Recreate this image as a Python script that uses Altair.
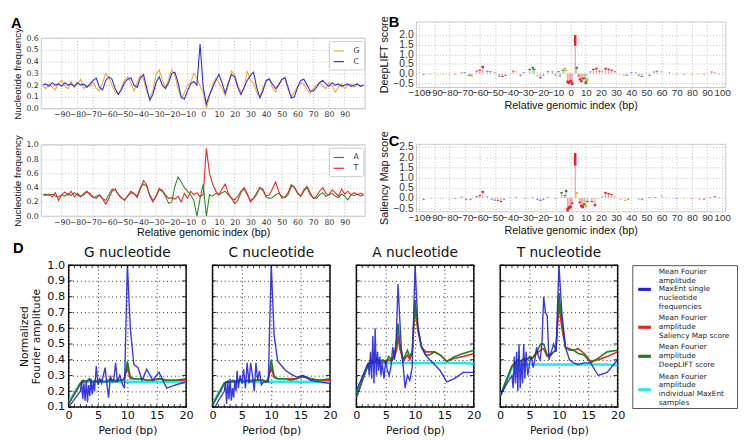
import altair as alt
import pandas as pd

# ---------------- Panel A data (nucleotide frequencies) ----------------
pos_a = list(range(-102, 103, 2))
freq_G = [0.19, 0.17, 0.21, 0.18, 0.16, 0.22, 0.24, 0.19, 0.17, 0.23,
          0.18, 0.21, 0.25, 0.17, 0.20, 0.19, 0.23, 0.17, 0.15, 0.22,
          0.30, 0.26, 0.20, 0.14, 0.12, 0.18, 0.24, 0.27, 0.22, 0.15,
          0.22, 0.28, 0.25, 0.15, 0.09, 0.15, 0.29, 0.33, 0.24, 0.18,
          0.25, 0.33, 0.28, 0.17, 0.09, 0.13, 0.20, 0.22, 0.30, 0.26,
          0.19, 0.14, 0.00, 0.10, 0.20, 0.26, 0.22, 0.17, 0.11, 0.20,
          0.32, 0.29, 0.20, 0.14, 0.17, 0.32, 0.24, 0.22, 0.14, 0.10,
          0.18, 0.23, 0.26, 0.18, 0.14, 0.21, 0.24, 0.27, 0.16, 0.10,
          0.14, 0.19, 0.22, 0.21, 0.16, 0.13, 0.17, 0.20, 0.22, 0.19,
          0.17, 0.22, 0.19, 0.14, 0.18, 0.21, 0.17, 0.20, 0.21, 0.18,
          0.21, 0.19, 0.20]
freq_C = [0.20, 0.21, 0.19, 0.22, 0.20, 0.21, 0.19, 0.22, 0.20, 0.21,
          0.19, 0.22, 0.20, 0.21, 0.18, 0.21, 0.24, 0.26, 0.18, 0.16,
          0.24, 0.27, 0.25, 0.17, 0.12, 0.16, 0.22, 0.25, 0.26, 0.20,
          0.18, 0.26, 0.29, 0.18, 0.07, 0.12, 0.22, 0.27, 0.20, 0.17,
          0.22, 0.30, 0.31, 0.22, 0.10, 0.08, 0.15, 0.21, 0.23, 0.20,
          0.55, 0.18, 0.04, 0.12, 0.18, 0.24, 0.29, 0.22, 0.13, 0.22,
          0.29, 0.27, 0.18, 0.12, 0.18, 0.24, 0.28, 0.31, 0.18, 0.09,
          0.15, 0.24, 0.25, 0.21, 0.17, 0.20, 0.25, 0.26, 0.18, 0.09,
          0.10, 0.18, 0.24, 0.25, 0.20, 0.15, 0.15, 0.18, 0.22, 0.24,
          0.21, 0.19, 0.22, 0.20, 0.21, 0.19, 0.20, 0.21, 0.19, 0.20,
          0.21, 0.19, 0.20]
freq_A = [0.30, 0.31, 0.29, 0.31, 0.28, 0.27, 0.30, 0.28, 0.32, 0.29,
          0.33, 0.30, 0.27, 0.32, 0.35, 0.30, 0.26, 0.28, 0.30, 0.25,
          0.22, 0.30, 0.38, 0.37, 0.30, 0.25, 0.23, 0.28, 0.33, 0.31,
          0.28, 0.40, 0.45, 0.42, 0.30, 0.22, 0.27, 0.37, 0.35, 0.28,
          0.18, 0.20, 0.42, 0.55, 0.48, 0.40, 0.35, 0.30, 0.22, 0.00,
          0.25, 0.45, 0.00, 0.30, 0.28, 0.32, 0.30, 0.33, 0.35, 0.30,
          0.25, 0.23, 0.28, 0.35, 0.38, 0.30, 0.22, 0.25, 0.33, 0.40,
          0.36, 0.27, 0.25, 0.26, 0.30, 0.32, 0.28, 0.26, 0.30, 0.42,
          0.41, 0.32, 0.28, 0.35, 0.40, 0.30, 0.26, 0.25, 0.30, 0.33,
          0.28, 0.30, 0.32, 0.28, 0.26, 0.31, 0.28, 0.23, 0.30, 0.29,
          0.31, 0.28, 0.30]
freq_T = [0.30, 0.29, 0.31, 0.27, 0.33, 0.22, 0.30, 0.34, 0.29, 0.35,
          0.27, 0.32, 0.28, 0.30, 0.34, 0.32, 0.27, 0.25, 0.30, 0.24,
          0.17, 0.25, 0.35, 0.38, 0.31, 0.26, 0.22, 0.29, 0.35, 0.32,
          0.26, 0.38, 0.50, 0.44, 0.28, 0.20, 0.28, 0.39, 0.36, 0.30,
          0.25, 0.26, 0.24, 0.28, 0.20, 0.32, 0.25, 0.35, 0.30, 0.33,
          0.27, 0.30, 0.95, 0.60, 0.45, 0.35, 0.30, 0.38, 0.45, 0.32,
          0.25, 0.18, 0.22, 0.33, 0.40, 0.32, 0.20, 0.25, 0.30, 0.40,
          0.38, 0.28, 0.30, 0.38, 0.48, 0.35, 0.25, 0.27, 0.33, 0.44,
          0.40, 0.33, 0.28, 0.37, 0.42, 0.33, 0.25, 0.28, 0.35, 0.40,
          0.32, 0.30, 0.37, 0.33, 0.28, 0.38, 0.31, 0.35, 0.30, 0.33,
          0.30, 0.32, 0.30]

# ---------------- Panel B data (DeepLIFT scores) ----------------
dl_pos = [-97, -93, -88, -84, -80, -76, -72, -70, -67, -66, -65, -62, -60, -58, -55, -53,
          -50, -47, -45, -43, -38, -36, -33, -31, -27, -25, -24, -22, -20, -18, -15, -12,
          -10, -8, -7, -5, -4, -3, -2, -1, 0, 1, 3, 4, 5, 6, 7, 8, 9, 10, 11, 13, 15, 17,
          19, 21, 23, 25, 27, 29, 32, 35, 37, 40, 43, 45, 47, 52, 55, 57, 60, 65, 70, 75,
          80, 84, 88, 93, 95, 98]
dl_nuc = ["C", "A", "G", "G", "G", "T", "T", "A", "A", "A", "G", "T", "T", "T", "C", "C",
          "T", "C", "T", "C", "T", "G", "C", "C", "A", "A", "A", "G", "C", "C", "A", "A",
          "C", "A", "C", "A", "G", "G", "T", "T", "T", "T", "T", "A", "T", "T", "T", "T", "A", "A", "G", "C", "T", "T",
          "T", "G", "T", "T", "T", "C", "G", "G", "A", "C", "C", "A", "C", "C", "A", "A", "G", "A", "G", "C",
          "G", "G", "T", "T", "T", "C"]
dl_val = [-0.08, -0.03, -0.05, -0.06, -0.05, -0.05, 0.05, 0.08, -0.12, -0.10, -0.15, 0.15, 0.20, 0.40, 0.15, 0.12,
          0.05, -0.15, -0.18, -0.12, 0.15, 0.12, -0.12, 0.08, 0.25, 0.35, 0.25, -0.15, -0.25, -0.10, 0.12, 0.10,
          -0.10, 0.12, -0.15, 0.20, 0.30, 0.20, -0.50, -0.55, -0.45, -0.60, 2.00, 0.35, -0.15, -0.35, -0.45, -0.30, -0.30, -0.55, -0.40, 0.10, 0.25, 0.30,
          0.15, 0.15, 0.30, 0.25, 0.20, 0.12, -0.05, -0.10, -0.12, 0.08, 0.06, -0.10, -0.18, -0.12, 0.10, 0.15, 0.12, 0.05, -0.06, -0.05,
          -0.06, -0.07, -0.05, 0.10, 0.05, -0.03]

# ---------------- Panel C data (Saliency Map scores) ----------------
sm_pos = [-97, -92, -85, -80, -76, -72, -69, -66, -62, -60, -58, -55, -52, -50, -48, -46,
          -44, -40, -36, -30, -25, -22, -20, -18, -15, -10, -6, -4, -3, -2, -1, 0, 1, 3, 4,
          6, 7, 8, 9, 10, 11, 14, 16, 18, 21, 23, 25, 27, 29, 33, 36, 38, 45, 47, 52, 56,
          60, 63, 70, 75, 80, 85, 88, 92, 95, 98]
sm_nuc = ["T", "G", "G", "G", "T", "T", "T", "A", "T", "T", "T", "C", "C", "C", "T", "T",
          "C", "G", "T", "A", "A", "C", "C", "C", "A", "C", "A", "T", "A", "T", "T", "T", "T", "T", "G",
          "T", "T", "T", "A", "G", "A", "T", "T", "G", "G", "T", "T", "T", "G", "G", "G", "A", "C", "A", "C", "A",
          "G", "G", "C", "G", "T", "T", "T", "T", "T", "T"]
sm_val = [-0.10, -0.05, -0.05, -0.06, -0.05, 0.06, -0.10, -0.10, 0.10, 0.15, 0.35, 0.08, -0.10, -0.12, -0.15, -0.20,
          -0.10, 0.05, 0.05, -0.05, 0.05, -0.10, -0.15, -0.10, 0.05, -0.05, 0.30, 0.15, 0.40, -0.65, -0.55, -0.50, -0.30, 2.20, 0.30,
          -0.25, -0.45, -0.50, -0.35, -0.45, -0.20, -0.20, -0.40, -0.05, 0.10, 0.30, 0.25, 0.20, 0.10, -0.10, -0.15, -0.08, -0.06, -0.10, 0.05, 0.05,
          0.12, 0.05, -0.05, -0.05, -0.05, -0.06, -0.08, 0.05, 0.10, 0.02]

# ---------------- Panel D data (Fourier amplitudes) ----------------
period_blue = [0.0, 1.0, 2.0, 2.2, 2.4, 2.6, 2.8, 3.0, 3.2, 3.4,
               3.6, 3.8, 4.0, 4.2, 4.4, 4.7, 5.0, 5.3, 5.6, 5.9,
               6.2, 6.5, 6.8, 7.1, 7.4, 7.7, 8.0, 8.3, 8.7, 9.1,
               9.5, 10.0, 10.5, 11.1, 11.8, 12.5, 13.3, 14.3, 15.4, 16.7,
               18.2, 20.0]
period_smooth = [0.0, 2.0, 2.5, 3.0, 3.5, 4.0, 4.5, 5.0, 5.5, 6.0,
                 6.5, 6.9, 7.1, 7.4, 8.0, 8.7, 9.1, 9.5, 10.0, 10.5,
                 11.1, 11.8, 12.5, 13.3, 14.3, 15.4, 16.7, 18.2, 20.0]

blue_G = [0.10, 0.15, 0.20, 0.27, 0.15, 0.25, 0.14, 0.27, 0.13, 0.24,
          0.17, 0.28, 0.18, 0.26, 0.20, 0.36, 0.24, 0.28, 0.25, 0.30,
          0.35, 0.25, 0.16, 0.30, 0.26, 0.28, 0.38, 0.26, 0.30, 0.25,
          0.22, 1.00, 0.60, 0.37, 0.35, 0.27, 0.34, 0.27, 0.32, 0.22,
          0.24, 0.26]
blue_C = [0.07, 0.14, 0.20, 0.26, 0.12, 0.27, 0.15, 0.28, 0.14, 0.22,
          0.16, 0.27, 0.20, 0.33, 0.22, 0.30, 0.25, 0.34, 0.22, 0.38,
          0.25, 0.38, 0.30, 0.20, 0.38, 0.27, 0.33, 0.24, 0.26, 0.26,
          0.26, 1.00, 0.55, 0.39, 0.36, 0.33, 0.31, 0.29, 0.30, 0.27,
          0.26, 0.25]
blue_A = [0.20, 0.29, 0.38, 0.30, 0.45, 0.28, 0.55, 0.25, 0.60, 0.30,
          0.45, 0.33, 0.42, 0.30, 0.38, 0.28, 0.40, 0.33, 0.30, 0.36,
          0.48, 0.40, 0.55, 0.88, 0.65, 0.45, 0.35, 0.22, 0.30, 0.27,
          0.35, 1.00, 0.60, 0.48, 0.43, 0.40, 0.37, 0.33, 0.26, 0.28,
          0.32, 0.32]
blue_T = [0.17, 0.24, 0.30, 0.22, 0.42, 0.25, 0.45, 0.20, 0.50, 0.22,
          0.40, 0.25, 0.50, 0.28, 0.45, 0.30, 0.38, 0.42, 0.35, 0.40,
          0.48, 0.42, 0.40, 0.50, 0.80, 0.70, 0.68, 0.40, 0.45, 0.50,
          0.45, 1.00, 0.70, 0.48, 0.40, 0.38, 0.37, 0.38, 0.38, 0.30,
          0.32, 0.40]

green_G = [0.12, 0.25, 0.27, 0.26, 0.28, 0.26, 0.27, 0.26, 0.27, 0.26,
           0.27, 0.27, 0.28, 0.27, 0.27, 0.27, 0.27, 0.28, 0.39, 0.29,
           0.28, 0.28, 0.28, 0.27, 0.27, 0.28, 0.27, 0.27, 0.28]
red_G = [0.12, 0.25, 0.26, 0.26, 0.27, 0.26, 0.26, 0.26, 0.27, 0.26,
         0.26, 0.27, 0.27, 0.27, 0.26, 0.27, 0.27, 0.28, 0.35, 0.28,
         0.28, 0.28, 0.28, 0.27, 0.27, 0.28, 0.27, 0.27, 0.27]
cyan_G = [0.13, 0.25, 0.26, 0.26, 0.26, 0.26, 0.26, 0.26, 0.26, 0.26,
          0.26, 0.26, 0.26, 0.26, 0.26, 0.26, 0.26, 0.26, 0.26, 0.26,
          0.26, 0.26, 0.26, 0.26, 0.26, 0.26, 0.26, 0.26, 0.255]
green_C = [0.11, 0.25, 0.26, 0.26, 0.27, 0.26, 0.27, 0.27, 0.26, 0.27,
           0.27, 0.27, 0.27, 0.27, 0.27, 0.27, 0.26, 0.28, 0.40, 0.29,
           0.28, 0.28, 0.28, 0.27, 0.28, 0.30, 0.28, 0.27, 0.28]
red_C = [0.11, 0.25, 0.26, 0.26, 0.26, 0.26, 0.27, 0.27, 0.26, 0.27,
         0.26, 0.27, 0.27, 0.27, 0.27, 0.27, 0.26, 0.28, 0.35, 0.29,
         0.28, 0.28, 0.28, 0.28, 0.28, 0.29, 0.28, 0.27, 0.27]
cyan_C = [0.12, 0.25, 0.26, 0.26, 0.26, 0.26, 0.26, 0.26, 0.26, 0.26,
          0.26, 0.26, 0.26, 0.26, 0.26, 0.26, 0.26, 0.26, 0.26, 0.26,
          0.26, 0.26, 0.26, 0.26, 0.26, 0.26, 0.26, 0.26, 0.255]
green_A = [0.16, 0.37, 0.40, 0.38, 0.41, 0.39, 0.40, 0.38, 0.42, 0.40,
           0.44, 0.52, 0.63, 0.50, 0.40, 0.46, 0.42, 0.45, 0.78, 0.60,
           0.48, 0.43, 0.43, 0.45, 0.43, 0.39, 0.42, 0.44, 0.46]
red_A = [0.16, 0.37, 0.39, 0.38, 0.40, 0.38, 0.39, 0.38, 0.40, 0.39,
         0.42, 0.47, 0.55, 0.47, 0.39, 0.43, 0.40, 0.44, 0.72, 0.58,
         0.48, 0.45, 0.45, 0.45, 0.43, 0.39, 0.41, 0.42, 0.44]
cyan_A = [0.19, 0.37, 0.38, 0.38, 0.38, 0.38, 0.38, 0.38, 0.38, 0.38,
          0.38, 0.38, 0.38, 0.38, 0.38, 0.38, 0.38, 0.38, 0.38, 0.38,
          0.38, 0.38, 0.38, 0.38, 0.38, 0.38, 0.38, 0.38, 0.375]
green_T = [0.17, 0.36, 0.38, 0.40, 0.39, 0.41, 0.40, 0.42, 0.41, 0.44,
           0.47, 0.50, 0.50, 0.50, 0.43, 0.44, 0.45, 0.46, 0.82, 0.65,
           0.48, 0.46, 0.46, 0.44, 0.43, 0.38, 0.41, 0.45, 0.46]
red_T = [0.17, 0.36, 0.38, 0.39, 0.39, 0.40, 0.40, 0.41, 0.41, 0.43,
         0.45, 0.46, 0.47, 0.47, 0.42, 0.43, 0.45, 0.46, 0.75, 0.60,
         0.48, 0.47, 0.46, 0.47, 0.44, 0.39, 0.40, 0.42, 0.45]
cyan_T = [0.17, 0.35, 0.37, 0.37, 0.37, 0.37, 0.37, 0.37, 0.37, 0.37,
          0.37, 0.37, 0.37, 0.37, 0.37, 0.37, 0.37, 0.37, 0.37, 0.37,
          0.37, 0.37, 0.37, 0.37, 0.37, 0.37, 0.37, 0.37, 0.365]

legend_entries = [["Mean Fourier", "amplitude", "MaxEnt single", "nucleotide", "frequencies"],
                  ["Mean Fourier", "amplitude", "Saliency Map score"],
                  ["Mean Fourier", "amplitude", "DeepLIFT score"],
                  ["Mean Fourier", "amplitude", "individual MaxEnt", "samples"]]

# ---------------- styling / layout ----------------
DV = "DejaVu Sans"
AR = "Liberation Sans"
GRID = "#bdbdbd"
FRAME = "#c8c8c8"
C_G, C_C, C_A, C_T = "#f4a43a", "#2f2fd6", "#2a8a2a", "#ea2626"
NUC_COL = {"A": "#2e8b2e", "C": "#5b5bef", "G": "#f5a623", "T": "#e8232b"}
D_BLUE, D_RED, D_GREEN, D_CYAN = "#2323d8", "#e6241c", "#1f7f1f", "#22e8f2"

W_A, H_A1, H_A2 = 331, 72, 73
W_B, H_B, H_C = 316, 67, 69
W_D, H_D, W_L = 120, 145, 107
A1_DROP = 17  # panel A (top) sits lower than panel B


def letter(txt, dx, dy):
    return alt.Chart(pd.DataFrame({"t": [txt]})).mark_text(
        align="left", baseline="top", font=AR, fontSize=15, fontWeight="bold", color="black"
    ).encode(text="t:N", x=alt.value(dx), y=alt.value(dy))


def anchor(l, t, r, b):
    # transparent box that fixes the panel's layout extent
    return alt.Chart(pd.DataFrame({"z": [0]})).mark_rect(color="transparent").encode(
        x=alt.value(l), x2=alt.value(r), y=alt.value(t), y2=alt.value(b))


def spacer(w, h):
    return alt.Chart(pd.DataFrame({"z": [0]})).mark_point(opacity=0, size=1).encode(
        x=alt.value(0), y=alt.value(0)
    ).properties(width=w, height=h, view=alt.ViewBackground(stroke="transparent"))


def freq_panel(v1, v2, names, colors, ymax, ystep, H, xtitle, drop, box, let):
    n = len(pos_a)
    df = pd.DataFrame({"pos": pos_a + pos_a, "val": v1 + v2,
                       "nuc": [names[0]] * n + [names[1]] * n})
    yvals = [round(i * ystep, 2) for i in range(int(round(ymax / ystep)) + 1)]
    xticks = list(range(-90, 91, 10))
    xkw = dict(values=xticks, labelExpr="replace(datum.label, '-', '\u2212')",
               labelFont=DV, labelFontSize=8, labelColor="#333", labelPadding=2,
               labelOverlap=False, labelFlush=False, ticks=False, domain=False, grid=False)
    if xtitle:
        xkw.update(title=xtitle, titleFont=AR, titleFontSize=11, titleFontWeight="normal",
                   titlePadding=1, titleColor="#111")
    else:
        xkw.update(title="")
    x = alt.X("pos:Q", scale=alt.Scale(domain=[-103, 103], nice=False, zero=False),
              axis=alt.Axis(**xkw))
    y = alt.Y("val:Q", scale=alt.Scale(domain=[0, ymax], range=[drop + H, drop],
                                       nice=False, zero=False),
              axis=alt.Axis(values=yvals, format=".1f", labelFont=DV, labelFontSize=8,
                            labelColor="#333", labelPadding=3, labelOverlap=False,
                            ticks=False, domain=False,
                            grid=True, gridColor=GRID, gridDash=[1, 2],
                            title="Nucleotide frequency", titleFont=AR, titleFontSize=10,
                            titleFontWeight="normal", titlePadding=3, titleColor="#111",
                            titleY=drop + H / 2.0))
    color = alt.Color("nuc:N", scale=alt.Scale(domain=names, range=colors),
                      legend=alt.Legend(title=None, orient="none", legendX=W_A - 37,
                                        legendY=drop + 3,
                                        symbolType="stroke", symbolStrokeWidth=1.2,
                                        symbolSize=110, labelFont=DV, labelFontSize=8,
                                        labelColor="#333", labelOffset=9,
                                        strokeColor="#cccccc", fillColor="white",
                                        padding=4, rowPadding=1, cornerRadius=2))
    xgrid = alt.Chart(pd.DataFrame({"pos": xticks})).mark_rule(
        color=GRID, strokeDash=[1, 2], strokeWidth=1).encode(
        x=x, y=alt.value(drop), y2=alt.value(drop + H))
    frame = alt.Chart(pd.DataFrame({"z": [0]})).mark_rect(
        fillOpacity=0, stroke=FRAME, strokeWidth=1).encode(
        x=alt.value(0), x2=alt.value(W_A), y=alt.value(drop), y2=alt.value(drop + H))
    lines = alt.Chart(df).mark_line(strokeWidth=1.1, clip=True).encode(x=x, y=y, color=color)
    layers = [anchor(*box), xgrid, frame, lines]
    if let:
        layers.append(letter(let, -31, drop - 22))
    return alt.layer(*layers).properties(
        width=W_A, height=drop + H, view=alt.ViewBackground(stroke="transparent"))


def logo_panel(pos, nuc, val, ymin, ymax, yvals, ytitle, H, let, ldy, tpad, box):
    df = pd.DataFrame({"pos": pos, "nuc": nuc, "val": val})
    x = alt.X("pos:Q", scale=alt.Scale(domain=[-102, 102], nice=False, zero=False),
              axis=alt.Axis(values=list(range(-100, 101, 10)), labelFont=AR, labelFontSize=10,
                            labelColor="#333", labelPadding=1, labelOverlap=False,
                            labelFlush=False, ticks=False, domain=False, grid=True,
                            gridColor=GRID, gridDash=[1, 2],
                            title="Relative genomic index (bp)", titleFont=AR,
                            titleFontSize=11, titleFontWeight="normal", titlePadding=tpad,
                            titleColor="#111"))
    y = alt.Y("val:Q", scale=alt.Scale(domain=[ymin, ymax], nice=False, zero=False),
              axis=alt.Axis(values=yvals, format=".1f",
                            labelExpr="replace(datum.label, '-', '\u2212')",
                            labelFont=AR, labelFontSize=10.5, labelColor="#333",
                            labelPadding=3, labelOverlap=False, ticks=False, domain=False,
                            grid=True, gridColor=GRID, gridDash=[1, 2], title=ytitle,
                            titleFont=AR, titleFontSize=11, titleFontWeight="normal",
                            titlePadding=3, titleColor="#111"))
    col = alt.Color("nuc:N", scale=alt.Scale(domain=list(NUC_COL.keys()),
                                             range=list(NUC_COL.values())), legend=None)
    stem = alt.Chart(df).mark_rule(strokeWidth=1.2, opacity=0.45).encode(
        x=x, y=y, y2=alt.datum(0), color=col)
    head = alt.Chart(df).transform_calculate(top="datum.val * 0.72").mark_rule(
        strokeWidth=2.6).encode(x=x, y=y, y2=alt.Y2("top"), color=col)
    return alt.layer(anchor(*box), stem, head, letter(let, -28, ldy)).properties(
        width=W_B, height=H, view=alt.ViewBackground(stroke=FRAME, strokeWidth=1))


def fourier_panel(name, blue, red, green, cyan, first, box):
    dfb = pd.DataFrame({"p": period_blue, "v": blue})
    dfr = pd.DataFrame({"p": period_smooth, "v": red})
    dfg = pd.DataFrame({"p": period_smooth, "v": green})
    dfc = pd.DataFrame({"p": period_smooth, "v": cyan})
    x = alt.X("p:Q", scale=alt.Scale(domain=[0, 20], nice=False, zero=False),
              axis=alt.Axis(values=[0, 5, 10, 15, 20], labelFont=DV, labelFontSize=11.5,
                            labelColor="#111", labelPadding=3, labelFlush=False,
                            ticks=False, domain=False, grid=True, gridColor="#000",
                            gridOpacity=0.85, gridDash=[1, 3], title="Period (bp)",
                            titleFont=DV, titleFontSize=11, titleFontWeight="normal",
                            titlePadding=4, titleColor="#111"))
    ykw = dict(values=[round(0.1 * i, 1) for i in range(1, 11)], format=".1f",
               ticks=False, domain=False, grid=True, gridColor="#000", gridOpacity=0.85,
               gridDash=[1, 3], labelOverlap=False)
    if first:
        ykw.update(labelFont=DV, labelFontSize=11.5, labelColor="#111", labelPadding=4,
                   title=["Normalized", "Fourier amplitude"], titleFont=DV,
                   titleFontSize=11, titleFontWeight="normal", titlePadding=5,
                   titleColor="#111", titleLineHeight=13)
    else:
        ykw.update(labels=False, title="")
    y = alt.Y("v:Q", scale=alt.Scale(domain=[0.1, 1.0], nice=False, zero=False),
              axis=alt.Axis(**ykw))
    cyan_l = alt.Chart(dfc).mark_line(color=D_CYAN, strokeWidth=2.6, clip=True).encode(x=x, y=y)
    red_l = alt.Chart(dfr).mark_line(color=D_RED, strokeWidth=1.6, clip=True).encode(x=x, y=y)
    green_l = alt.Chart(dfg).mark_line(color=D_GREEN, strokeWidth=1.6, clip=True).encode(x=x, y=y)
    blue_l = alt.Chart(dfb).mark_line(color=D_BLUE, strokeWidth=1.4, opacity=0.9,
                                      clip=True).encode(x=x, y=y)
    xt = pd.DataFrame({"p": list(range(0, 21))})
    yt = pd.DataFrame({"v": [round(0.1 * i, 1) for i in range(1, 11)]})
    tk = dict(color="black", strokeWidth=0.8)
    t_top = alt.Chart(xt).mark_rule(**tk).encode(x=x, y=alt.value(0), y2=alt.value(3))
    t_bot = alt.Chart(xt).mark_rule(**tk).encode(x=x, y=alt.value(H_D - 3), y2=alt.value(H_D))
    t_lft = alt.Chart(yt).mark_rule(**tk).encode(y=y, x=alt.value(0), x2=alt.value(4))
    t_rgt = alt.Chart(yt).mark_rule(**tk).encode(y=y, x=alt.value(W_D - 4), x2=alt.value(W_D))
    ttl = alt.Chart(pd.DataFrame({"t": [name]})).mark_text(
        align="center", baseline="bottom", font=DV, fontSize=14, color="#111"
    ).encode(text="t:N", x=alt.value(W_D / 2.0), y=alt.value(-5))
    layers = [anchor(*box), cyan_l, red_l, green_l, blue_l, t_top, t_bot, t_lft, t_rgt, ttl]
    if first:
        layers.append(letter("D", box[0] + 2, -24))
    return alt.layer(*layers).properties(
        width=W_D, height=H_D, view=alt.ViewBackground(stroke="#111", strokeWidth=1.5))


def legend_panel(box):
    rows, sw = [], []
    k = 0
    for e, lines in enumerate(legend_entries):
        start = k + 0.3 * e
        for i, t in enumerate(lines):
            rows.append({"row": start + i, "text": t})
        sw.append({"row": start + (len(lines) - 1) / 2.0, "entry": str(e)})
        k += len(lines)
    ysc = alt.Scale(domain=[-0.75, 15.47], reverse=True, nice=False, zero=False)
    txt = alt.Chart(pd.DataFrame(rows)).mark_text(
        align="left", baseline="middle", font=DV, fontSize=7.5, color="#222"
    ).encode(x=alt.value(27), y=alt.Y("row:Q", scale=ysc, axis=None), text="text:N")
    sws = alt.Chart(pd.DataFrame(sw)).mark_rule(strokeWidth=3.2).encode(
        x=alt.value(6), x2=alt.value(19), y=alt.Y("row:Q", scale=ysc, axis=None),
        color=alt.Color("entry:N", scale=alt.Scale(domain=["0", "1", "2", "3"],
                                                   range=[D_BLUE, D_RED, D_GREEN, D_CYAN]),
                        legend=None))
    return alt.layer(anchor(*box), sws, txt).properties(
        width=W_L, height=H_D + 1, view=alt.ViewBackground(stroke="#555", strokeWidth=1))


# ---------------- assemble ----------------
BOT = H_D + 33
A1 = freq_panel(freq_G, freq_C, ["G", "C"], [C_G, C_C], 0.6, 0.1, H_A1, None, A1_DROP,
                (-33, -8, W_A, A1_DROP + H_A1 + 14), "A")
A2 = freq_panel(freq_A, freq_T, ["A", "T"], [C_A, C_T], 1.0, 0.2, H_A2,
                "Relative genomic index (bp)", 0, (-33, -21, W_A, H_A2 + 28), None)
B = logo_panel(dl_pos, dl_nuc, dl_val, -0.7, 2.7, [-0.5, 0.0, 0.5, 1.0, 1.5, 2.0],
               "DeepLIFT score", H_B, "B", -6, 2, (-44, -8, W_B + 6, H_B + 28))
Cp = logo_panel(sm_pos, sm_nuc, sm_val, -0.65, 2.65, [-0.5, 0.0, 0.5, 1.0, 1.5, 2.0, 2.5],
                "Saliency Map score", H_C, "C", -10, 3, (-44, -12, W_B + 6, H_C + 30))

DG = fourier_panel("G nucleotide", blue_G, red_G, green_G, cyan_G, True, (-59, -26, W_D + 10, BOT))
DC = fourier_panel("C nucleotide", blue_C, red_C, green_C, cyan_C, False, (-6, -26, W_D + 10, BOT))
DA = fourier_panel("A nucleotide", blue_A, red_A, green_A, cyan_A, False, (-6, -26, W_D + 10, BOT))
DT = fourier_panel("T nucleotide", blue_T, red_T, green_T, cyan_T, False, (-6, -26, W_D + 10, BOT))
LEG = legend_panel((0, -26, W_L, BOT))
S_D = spacer(1, 1)

ind = dict(color="independent", x="independent", y="independent")

left_col = alt.vconcat(A1, A2, spacing=0).resolve_scale(**ind)
right_col = alt.vconcat(B, Cp, spacing=15).resolve_scale(**ind)
top = alt.hconcat(left_col, right_col, spacing=6).resolve_scale(**ind)
d_row = alt.hconcat(DG, DC, DA, DT, spacing=9).resolve_scale(**ind)
d_all = alt.hconcat(d_row, LEG, spacing=3).resolve_scale(**ind)
bottom = alt.hconcat(S_D, d_all, spacing=-34).resolve_scale(**ind)

chart = alt.vconcat(top, bottom, spacing=-6).resolve_scale(**ind).properties(
    padding={"left": 0, "top": 0, "right": 0, "bottom": 0}
).configure(background="white").configure_axis(titleFontWeight="normal")

chart.save("out.html", embed_options={"renderer": "svg", "actions": False})
